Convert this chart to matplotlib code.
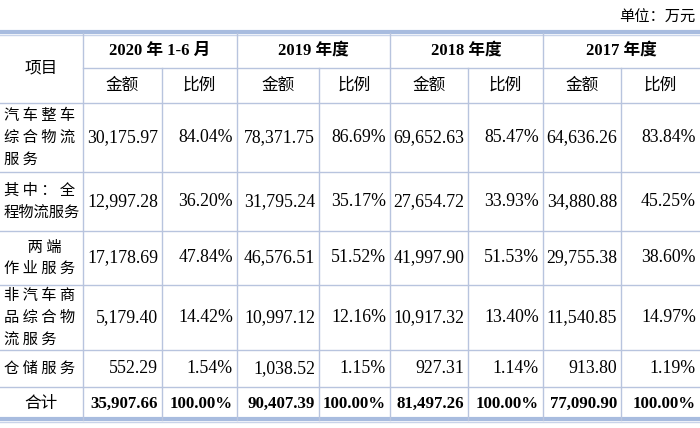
import matplotlib
matplotlib.use("Agg")
import matplotlib.pyplot as plt

periods = ["2020 年 1-6 月", "2019 年度", "2018 年度", "2017 年度"]
sub_headers = ["金额", "比例"]
row_labels = ["汽 车 整 车\n综 合 物 流\n服 务", "其 中 ： 全\n程物流服务", "       两 端\n作 业 服 务",
              "非 汽 车 商\n品 综 合 物\n流 服 务", "仓 储 服 务", "合计"]
amounts = [
    ["30,175.97", "78,371.75", "69,652.63", "64,636.26"],
    ["12,997.28", "31,795.24", "27,654.72", "34,880.88"],
    ["17,178.69", "46,576.51", "41,997.90", "29,755.38"],
    ["5,179.40", "10,997.12", "10,917.32", "11,540.85"],
    ["552.29", "1,038.52", "927.31", "913.80"],
    ["35,907.66", "90,407.39", "81,497.26", "77,090.90"],
]
ratios = [
    ["84.04%", "86.69%", "85.47%", "83.84%"],
    ["36.20%", "35.17%", "33.93%", "45.25%"],
    ["47.84%", "51.52%", "51.53%", "38.60%"],
    ["14.42%", "12.16%", "13.40%", "14.97%"],
    ["1.54%", "1.15%", "1.14%", "1.19%"],
    ["100.00%", "100.00%", "100.00%", "100.00%"],
]
unit = "单位：万元"

FONT = ["Liberation Serif", "Noto Sans CJK SC"]
CJK = ["Noto Sans CJK SC"]
xs = [0, 83, 162, 237, 319, 390, 468, 543, 621, 700]
ys = [33, 68, 103, 172, 231, 285, 350, 387, 420]
LC = "#b8c4de"

fig = plt.figure(figsize=(7, 4.28), dpi=100)
ax = fig.add_axes([0, 0, 1, 1])
ax.set_xlim(0, 700); ax.set_ylim(428, 0); ax.axis("off")

for y in (ys[0], ys[-1]):
    ax.plot([0, 700], [y - 1.5, y - 1.5], color="#a8bcdf", lw=3)
    ax.plot([0, 700], [y + 1.5, y + 1.5], color="#c9d4ea", lw=1)
ax.plot([83, 700], [ys[1], ys[1]], color=LC, lw=1)
for y in ys[2:-1]:
    ax.plot([0, 700], [y, y], color=LC, lw=1)
for i, x in enumerate(xs[1:-1], start=1):
    top = ys[0] if i % 2 == 1 else ys[1]
    ax.plot([x, x], [top, ys[-1]], color=LC, lw=1)

fs = 12
ax.text(695, 17, unit, ha="right", va="center", fontsize=11, family=CJK)
ax.text(41, (ys[0] + ys[2]) / 2, "项目", ha="center", va="center", fontsize=fs, family=CJK)
for p, name in enumerate(periods):
    x0, x1, x2 = xs[1 + 2 * p], xs[2 + 2 * p], xs[3 + 2 * p]
    ax.text((x0 + x2) / 2, (ys[0] + ys[1]) / 2, name, ha="center", va="center",
            fontsize=fs, family=FONT, weight="bold")
    ax.text((x0 + x1) / 2, (ys[1] + ys[2]) / 2, sub_headers[0], ha="center", va="center", fontsize=fs, family=CJK)
    ax.text((x1 + x2) / 2, (ys[1] + ys[2]) / 2, sub_headers[1], ha="center", va="center", fontsize=fs, family=CJK)

for r, lab in enumerate(row_labels):
    yc = (ys[2 + r] + ys[3 + r]) / 2
    bold = r == len(row_labels) - 1
    if bold:
        ax.text(41, yc, lab, ha="center", va="center", fontsize=fs, family=CJK)
    else:
        ax.text(4, yc, lab, ha="left", va="center", fontsize=11, family=CJK, linespacing=1.35)
    for p in range(4):
        x0, x1, x2 = xs[1 + 2 * p], xs[2 + 2 * p], xs[3 + 2 * p]
        nfs = 12.2 if bold else 12.8
        ax.text(x1 - 4, yc, amounts[r][p], ha="right", va="center", fontsize=nfs,
                family=FONT, weight="bold" if bold else "normal")
        ax.text(x2 - 4, yc, ratios[r][p], ha="right", va="center", fontsize=nfs,
                family=FONT, weight="bold" if bold else "normal")

fig.savefig("out.png", dpi=100, facecolor="white")
